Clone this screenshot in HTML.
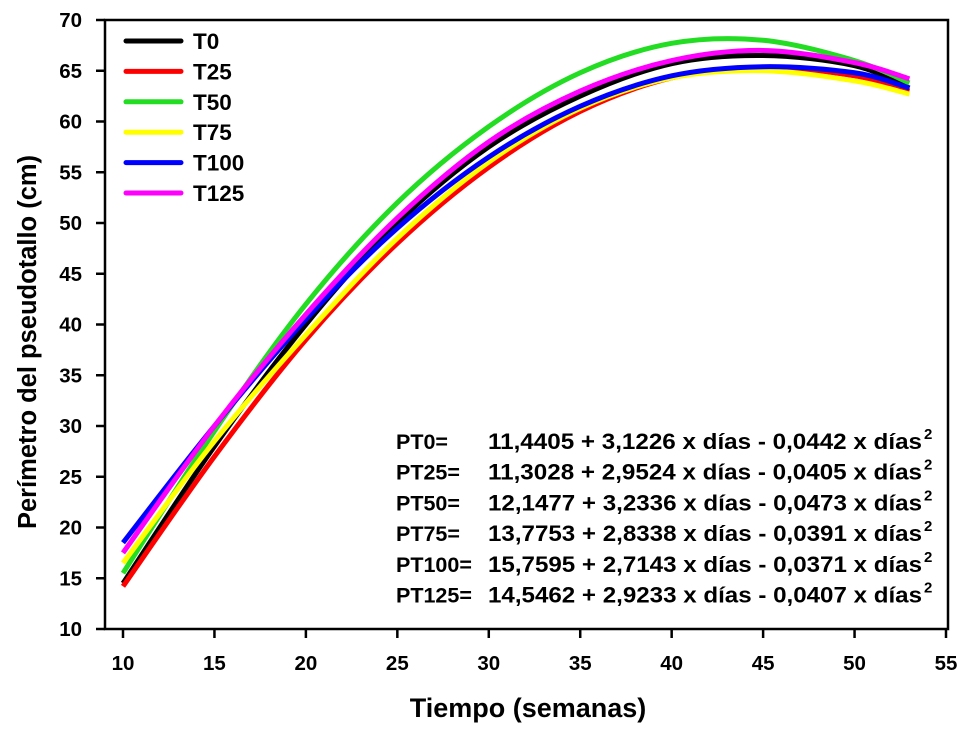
<!DOCTYPE html>
<html><head><meta charset="utf-8"><style>
body{margin:0;background:#fff;}
svg text{font-family:"Liberation Sans",Arial,sans-serif;font-weight:bold;}
</style></head><body>
<svg id="chart" width="974" height="729">
<rect x="105" y="20" width="843" height="609" fill="none" stroke="#000" stroke-width="2.5"/>
<g id="axes"></g><g id="series"></g><g id="legend"></g><g id="eqs"></g>
<text x="528" y="717" font-size="27" text-anchor="middle">Tiempo (semanas)</text>
<text transform="translate(36,342) rotate(-90)" font-size="25.5" text-anchor="middle">Perímetro del pseudotallo (cm)</text>
</svg>
<script>
const xTicks=[10,15,20,25,30,35,40,45,50,55];
const yTicks=[10,15,20,25,30,35,40,45,50,55,60,65,70];
const weeks=[10,15,20,25,30,35,40,45,50,53];
const seriesNames=["T0","T25","T50","T75","T100","T125"];
const seriesColors=["#000000","#ff0000","#22dd22","#ffff00","#0000ff","#ff00ff"];
const t0=[14.5,28,40,50,57.5,62.5,65.7,66.5,65.5,63.3];
const t25=[14.2,27,38.5,48,55.5,61,64.3,65.3,64.5,63];
const t50=[15.5,29.5,42,52,59.5,64.8,67.7,68,66,63.8];
const t75=[16.5,28.5,39,48.5,56,61.3,64.3,65,64,62.7];
const t100=[18.5,30,40.5,49.5,56.5,61.5,64.5,65.4,64.8,63.3];
const t125=[17.5,30,41,50.5,58,63,66,67,65.8,64.2];
const eqLabels=["PT0=","PT25=","PT50=","PT75=","PT100=","PT125="];
const eqBodies=["11,4405 + 3,1226 x días - 0,0442 x días","11,3028 + 2,9524 x días - 0,0405 x días","12,1477 + 3,2336 x días - 0,0473 x días","13,7753 + 2,8338 x días - 0,0391 x días","15,7595 + 2,7143 x días - 0,0371 x días","14,5462 + 2,9233 x días - 0,0407 x días"];
const allSeries=[t0,t25,t50,t75,t100,t125];
const NS="http://www.w3.org/2000/svg";
const X=v=>123+(v-10)*(823/45);
const Y=v=>629-(v-10)*(609/60);
function mk(tag,attrs,parent){const e=document.createElementNS(NS,tag);for(const k in attrs)e.setAttribute(k,attrs[k]);parent.appendChild(e);return e;}
const axes=document.getElementById('axes');
xTicks.forEach(t=>{
 const l=mk('line',{x1:X(t),x2:X(t),y1:629,y2:638,stroke:'#000','stroke-width':2.5},axes);
 
 
 const tx=mk('text',{x:X(t),y:670,'font-size':20.5,'text-anchor':'middle'},axes);
 tx.textContent=t;
 
 
});
yTicks.forEach(t=>{
 const l=mk('line',{x1:96,x2:105,y1:Y(t),y2:Y(t),stroke:'#000','stroke-width':2.5},axes);
 
 
 const tx=mk('text',{x:82,y:Y(t)+7,'font-size':20.5,'text-anchor':'end'},axes);
 tx.textContent=t;
 
 
});
function smooth(pts){let d=`M${pts[0][0]},${pts[0][1]}`;for(let i=0;i<pts.length-1;i++){const p0=pts[i-1]||pts[i],p1=pts[i],p2=pts[i+1],p3=pts[i+2]||p2;
 d+=` C${p1[0]+(p2[0]-p0[0])/6},${p1[1]+(p2[1]-p0[1])/6} ${p2[0]-(p3[0]-p1[0])/6},${p2[1]-(p3[1]-p1[1])/6} ${p2[0]},${p2[1]}`;}return d;}
const sg=document.getElementById('series');
allSeries.forEach((s,i)=>{
 const pts=weeks.map((w,j)=>[X(w),Y(s[j])]);
 const p=mk('path',{d:smooth(pts),fill:'none',stroke:seriesColors[i],'stroke-width':5},sg);
 
 
});
const lg=document.getElementById('legend');
seriesNames.forEach((n,i)=>{
 const y=41+i*30.4;
 const l=mk('line',{x1:126,x2:181,y1:y,y2:y,stroke:seriesColors[i],'stroke-width':5,'stroke-linecap':'round'},lg);
 
 
 const t=mk('text',{x:193,y:y+8,'font-size':22.5},lg);t.textContent=n;
 
 
});
const eg=document.getElementById('eqs');
eqLabels.forEach((lab,i)=>{
 const y=449+i*30.7;
 const a=mk('text',{x:396,y:y,'font-size':21.5},eg);a.textContent=lab;
 
 
 const b=mk('text',{x:488,y:y,'font-size':22,textLength:434,lengthAdjust:'spacingAndGlyphs'},eg);b.textContent=eqBodies[i];
 
 
 const s=mk('text',{x:924,y:y-10,'font-size':15},eg);s.textContent='2';
 
 
});
</script>
</body></html>
